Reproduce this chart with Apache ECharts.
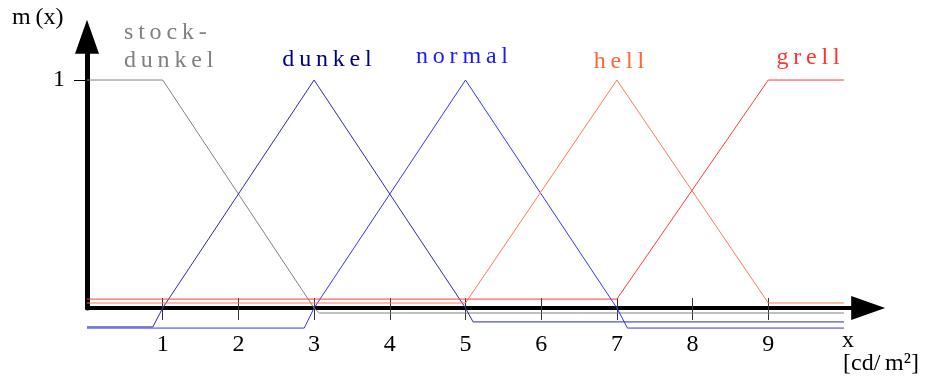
<!DOCTYPE html>
<html>
<head>
<meta charset="utf-8">
<script src="https://cdn.jsdelivr.net/npm/echarts@6/dist/echarts.min.js"></script>
<style>
  html, body { margin: 0; background: #fff; }
  #chart { width: 940px; height: 385px; }
</style>
</head>
<body>
<div id="chart"></div>
<script>
// membership functions, [x, m(x)] — the small offsets near 0 are how the original drawing has them
var xTicks = [1, 2, 3, 4, 5, 6, 7, 8, 9];
var yTicks = [1];
var stockDunkel = [[0, 1], [1, 1], [3, 0], [3.07, -0.022], [10, -0.022]];
var dunkel = [[0, -0.083], [0.87, -0.083], [1, 0], [3, 1], [5, 0], [5.1, -0.061], [10, -0.061]];
var normal = [[0, -0.088], [2.87, -0.088], [3, 0], [5, 1], [7, 0], [7.14, -0.088], [10, -0.088]];
var hell = [[0, 0.022], [5, 0.022], [7, 1], [9, 0.022], [10, 0.022]];
var grell = [[0, 0.039], [7, 0.039], [9, 1], [10, 1]];

var FONT = "24px 'Liberation Serif', 'DejaVu Serif', serif";
var sp = '\u2009';
function spaced(s) { return s.split('').join(sp); }

var chart = echarts.init(document.getElementById('chart'));

function line(name, data, color) {
    return {
        name: name, type: 'line', data: data, showSymbol: false, silent: true,
        clip: false,
        lineStyle: { color: color, width: 1 }
    };
}

function txt(text, x, y, color, align) {
    return {
        type: 'text', silent: true,
        style: { text: text, x: x, y: y, font: FONT, fill: color,
                 textAlign: align || 'left', textVerticalAlign: 'middle' }
    };
}

chart.setOption({
    animation: false,
    grid: { left: 87, right: 71.8, top: 36.7, bottom: 77, containLabel: false },
    xAxis: [{
        type: 'value', min: 0, max: 10.32,
        axisLine: { onZero: true, lineStyle: { color: '#000', width: 4 },
                    symbol: ['none', 'triangle'], symbolSize: [24, 34] },
        axisTick: { show: true, inside: false, length: 12, customValues: xTicks,
                    lineStyle: { color: '#333', width: 1 } },
        axisLabel: { customValues: xTicks, margin: 25, color: '#000',
                     fontFamily: "'Liberation Serif', serif", fontSize: 24 },
        splitLine: { show: false }
    }, {
        type: 'value', min: 0, max: 10.32, position: 'bottom',
        axisLine: { show: false, onZero: true, onZeroAxisIndex: 0 },
        axisTick: { show: true, inside: true, length: 10, customValues: xTicks,
                    lineStyle: { color: '#333', width: 1 } },
        axisLabel: { show: false },
        splitLine: { show: false }
    }],
    yAxis: {
        type: 'value', min: 0, max: 1.19,
        axisLine: { onZero: true, lineStyle: { color: '#000', width: 5 },
                    symbol: ['none', 'triangle'], symbolSize: [24, 34] },
        axisTick: { show: true, length: 13, customValues: yTicks,
                    lineStyle: { color: '#000', width: 1 } },
        axisLabel: { customValues: yTicks, margin: 22, color: '#000',
                     fontFamily: "'Liberation Serif', serif", fontSize: 24 },
        splitLine: { show: false }
    },
    series: [
        line('stock-dunkel', stockDunkel, '#808080'),
        line('dunkel', dunkel, '#2a2aa8'),
        line('normal', normal, '#3333ff'),
        line('hell', hell, '#ff7a50'),
        line('grell', grell, '#ff3a3a')
    ],
    graphic: [
        txt('m' + sp + '(x)', 12, 18, '#000'),
        txt(spaced('stock-'), 124, 33, '#808080'),
        txt(spaced('dunkel'), 124, 61, '#808080'),
        txt(spaced('dunkel'), 327, 60, '#000080', 'center'),
        txt(spaced('normal'), 462, 57, '#1a1aff', 'center'),
        txt(spaced('hell'), 619, 62, '#ff6633', 'center'),
        txt(spaced('grell'), 808, 58, '#ff3333', 'center'),
        txt('x', 848, 341, '#000', 'center'),
        txt('[cd/' + sp + 'm²]', 843, 364, '#000')
    ]
});
</script>
</body>
</html>
